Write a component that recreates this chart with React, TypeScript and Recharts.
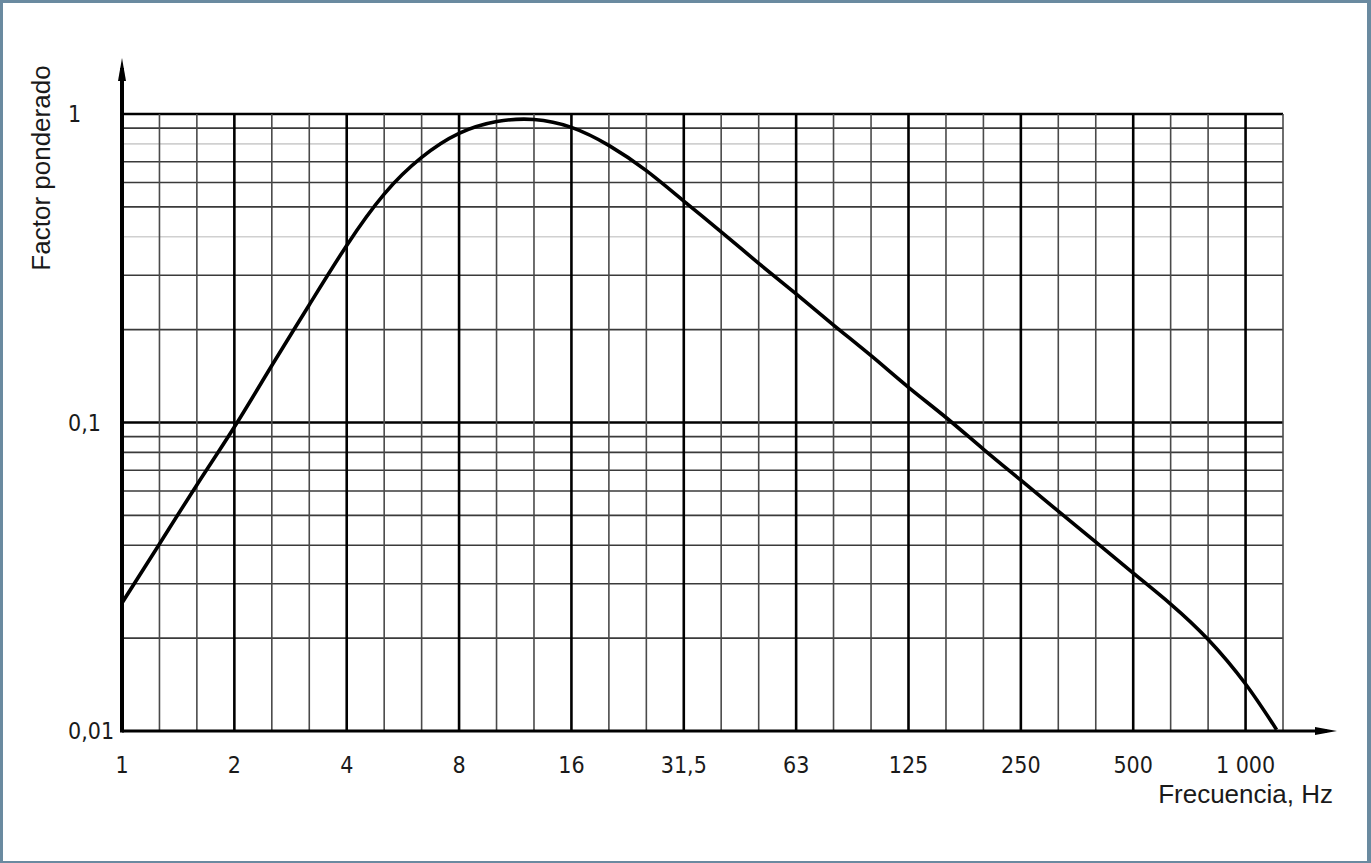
import React from "react";
import { LineChart, Line, XAxis, YAxis, ReferenceLine } from "recharts";

const freqs = [1, 1.26, 1.59, 2, 2.52, 3.17, 4, 5.04, 6.35, 8, 10.1, 12.7, 16, 20.2, 25.4, 32, 40.3, 50.8, 64, 80.6, 102, 128, 161, 203, 256, 323, 406, 512, 645, 813, 1024, 1240];
// Weighting factor values
const weights = [0.026, 0.0404, 0.063, 0.0967, 0.153, 0.24, 0.375, 0.55, 0.723, 0.865, 0.945, 0.96, 0.905, 0.79, 0.655, 0.522, 0.415, 0.328, 0.261, 0.207, 0.164, 0.13, 0.104, 0.082, 0.065, 0.0515, 0.041, 0.0325, 0.0258, 0.0198, 0.0142, 0.0101];

// X axis: octave tick positions and their printed labels
const xTicks = [1, 2, 4, 8, 16, 32, 64, 128, 256, 512, 1024];
const xTickLabels = ["1", "2", "4", "8", "16", "31,5", "63", "125", "250", "500", "1 000"];

// Y axis ticks and labels
const yTicks = [0.01, 0.1, 1];
const yTickLabels = ["0,01", "0,1", "1"];

// Third-octave vertical grid lines
const gridFreqs = [1.26, 1.587, 2, 2.52, 3.175, 4, 5.04, 6.35, 8, 10.08, 12.7, 16, 20.16, 25.4, 32, 40.3, 50.8, 64, 80.6, 101.6, 128, 161.3, 203.2, 256, 322.5, 406.4, 512, 645, 812.7, 1024, 1290];
// Horizontal grid levels
const gridLevels = [0.02, 0.03, 0.04, 0.05, 0.06, 0.07, 0.08, 0.09, 0.1, 0.2, 0.3, 0.4, 0.5, 0.6, 0.7, 0.8, 0.9, 1];
const heavyLevels = [0.1, 1];
const faintLevels = [0.4, 0.8];

const xTitle = "Frecuencia, Hz";
const yTitle = "Factor ponderado";

const data = freqs.map((f, i) => ({ f, w: weights[i] }));

const tickFont = "'DejaVu Sans Condensed', 'DejaVu Sans', sans-serif";
const labelFont = "'Liberation Sans', Arial, sans-serif";

const XTick = (props: any) => {
  const { x, y, payload } = props;
  const idx = xTicks.indexOf(payload.value);
  return (
    <text x={x} y={y + 26} textAnchor="middle" dominantBaseline="central" fontSize={23}
      fontFamily={tickFont} style={{ fontStretch: "condensed" }} fill="#1a1a1a">
      {idx >= 0 ? xTickLabels[idx] : ""}
    </text>
  );
};

const YTick = (props: any) => {
  const { x, y, payload } = props;
  const idx = yTicks.indexOf(payload.value);
  return (
    <text x={x - 54} y={y} textAnchor="start" dominantBaseline="central" fontSize={23}
      fontFamily={tickFont} style={{ fontStretch: "condensed" }} fill="#1a1a1a">
      {idx >= 0 ? yTickLabels[idx] : ""}
    </text>
  );
};

const XAxisShape = (p: any) => {
  const xa = Math.min(p.x1, p.x2);
  const xb = Math.max(p.x1, p.x2);
  const y = p.y1;
  const tip = xb + 54;
  return (
    <g>
      <line x1={xa} y1={y} x2={tip - 10} y2={y} stroke="#000" strokeWidth={3} />
      <polygon points={`${tip},${y} ${tip - 22},${y - 4} ${tip - 22},${y + 4}`} fill="#000" />
    </g>
  );
};

const YAxisShape = (p: any) => {
  const ya = Math.max(p.y1, p.y2);
  const yb = Math.min(p.y1, p.y2);
  const x = p.x1;
  const tip = yb - 56;
  return (
    <g>
      <line x1={x} y1={ya + 1.5} x2={x} y2={tip + 10} stroke="#000" strokeWidth={4} />
      <polygon points={`${x},${tip} ${x - 4},${tip + 23} ${x + 4},${tip + 23}`} fill="#000" />
    </g>
  );
};

const YLabel = (props: any) => {
  const vb = props.viewBox;
  const cx = vb.x - 21;
  const cy = vb.y + 54;
  return (
    <text x={cx} y={cy} transform={`rotate(-90 ${cx} ${cy})`} textAnchor="middle" dominantBaseline="central"
      fontSize={26} fontFamily={labelFont} fill="#1a1a1a">
      {yTitle}
    </text>
  );
};

const XLabel = (props: any) => {
  const vb = props.viewBox;
  return (
    <text x={vb.x + vb.width + 50} y={vb.y + 72} textAnchor="end" fontSize={26} fontFamily={labelFont} fill="#1a1a1a">
      {xTitle}
    </text>
  );
};

export default function App() {
  return (
    <div style={{ position: "fixed", left: 0, top: 0, width: 1371, height: 863, background: "#fff", overflow: "hidden" }}>
      <div style={{ position: "absolute", left: 0, top: 0 }}>
        <LineChart width={1371} height={863} data={data}
          margin={{ top: 114, right: 88, bottom: 92, left: 62 }}>
          <XAxis dataKey="f" type="number" scale="log" domain={[1, 1290]} allowDataOverflow
            ticks={xTicks} tick={<XTick />} axisLine={false} tickLine={false} height={40}
            interval={0} label={<XLabel />} />
          <YAxis type="number" scale="log" domain={[0.01, 1]} allowDataOverflow ticks={yTicks}
            tick={<YTick />} axisLine={false} tickLine={false} tickSize={0} tickMargin={0} width={60}
            interval={0} label={<YLabel />} />
          {gridLevels.map((v) => (
            <ReferenceLine key={"h" + v} y={v}
              stroke={heavyLevels.includes(v) ? "#000" : faintLevels.includes(v) ? "#d0d0d0" : "#3a3a3a"}
              strokeWidth={heavyLevels.includes(v) ? 2.5 : 1.6} />
          ))}
          {gridFreqs.map((v) => (
            <ReferenceLine key={"v" + v} x={v}
              stroke={xTicks.includes(v) ? "#000" : "#4a4a4a"}
              strokeWidth={xTicks.includes(v) ? 2.6 : 1.6} />
          ))}
          <ReferenceLine y={0.01} stroke="#000" shape={<XAxisShape />} />
          <ReferenceLine x={1} stroke="#000" shape={<YAxisShape />} />
          <Line type="natural" dataKey="w" stroke="#000" strokeWidth={3.6} dot={false}
            isAnimationActive={false} />
        </LineChart>
      </div>
      <div style={{ position: "absolute", left: 0, top: 0, width: 1371, height: 863, boxSizing: "border-box",
        borderStyle: "solid", borderColor: "#6a8aa0", borderWidth: "3px 4px 2px 3px", pointerEvents: "none" }} />
    </div>
  );
}
